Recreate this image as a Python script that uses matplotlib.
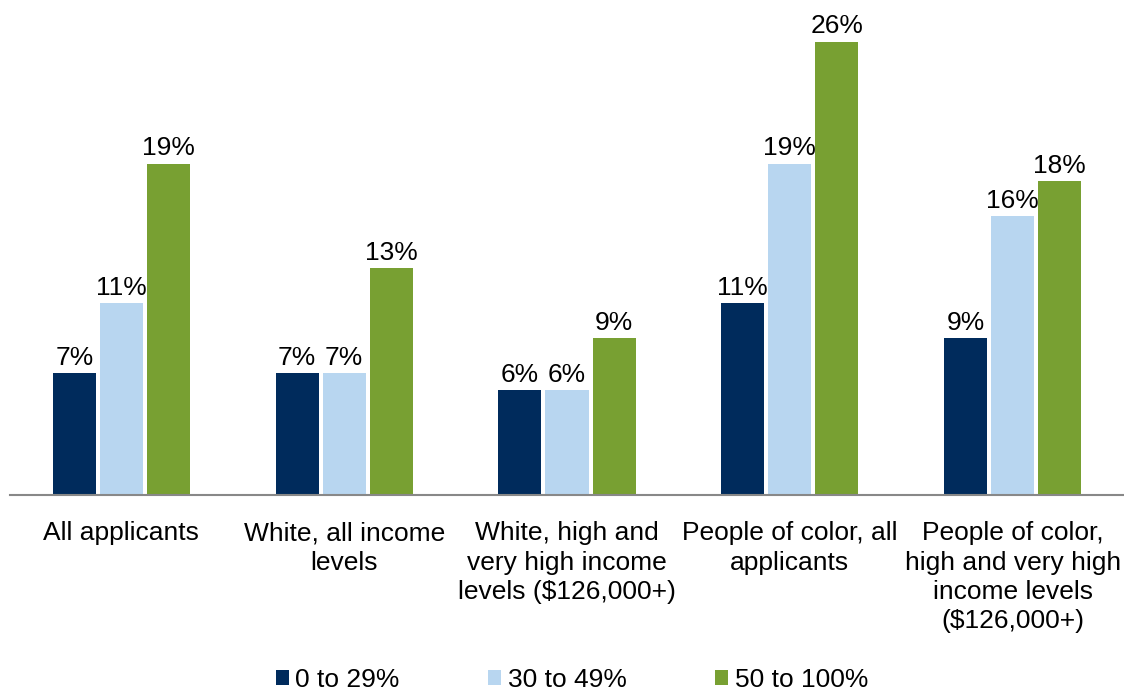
import numpy as np
import matplotlib.pyplot as plt

plt.rcParams['font.family'] = ['Liberation Sans', 'DejaVu Sans']

groups = ['All applicants', 'White, all income\nlevels',
          'White, high and\nvery high income\nlevels ($126,000+)',
          'People of color, all\napplicants',
          'People of color,\nhigh and very high\nincome levels\n($126,000+)']
series = ['0 to 29%', '30 to 49%', '50 to 100%']
low = [7, 7, 6, 11, 9]
mid = [11, 7, 6, 19, 16]
high = [19, 13, 9, 26, 18]
colors = ['#002B5C', '#B8D6F0', '#78A032']

fig = plt.figure(figsize=(11.24, 6.94), dpi=100)
ax = fig.add_axes([10/1124, 1 - 495/694, 1114/1124, 488/694])

x = np.arange(len(groups))
w = 0.193
step = 0.211
for i, (vals, lab) in enumerate(zip([low, mid, high], series)):
    pos = x + (i - 1) * step
    ax.bar(pos, vals, width=w, color=colors[i], label=lab)
    for p, v in zip(pos, vals):
        ax.text(p, v + 0.2, f'{v}%', ha='center', va='bottom', fontsize=19)

ax.set_xlim(-0.5, 4.5)
ax.set_ylim(0, 28)
ax.set_yticks([])
for s in ['top', 'right', 'left']:
    ax.spines[s].set_visible(False)
ax.spines['bottom'].set_color('#888888')
ax.spines['bottom'].set_linewidth(1.5)
ax.set_xticks(x)
ax.set_xticklabels(groups, fontsize=19, linespacing=1.28)
ax.tick_params(axis='x', length=0, pad=19)

fig.legend(loc='center', bbox_to_anchor=(572/1124, 1 - 680/694), ncol=3,
           frameon=False, fontsize=19, handlelength=0.5, handleheight=0.5,
           handletextpad=0.25, columnspacing=3.35)

fig.savefig('out.png', dpi=100)
